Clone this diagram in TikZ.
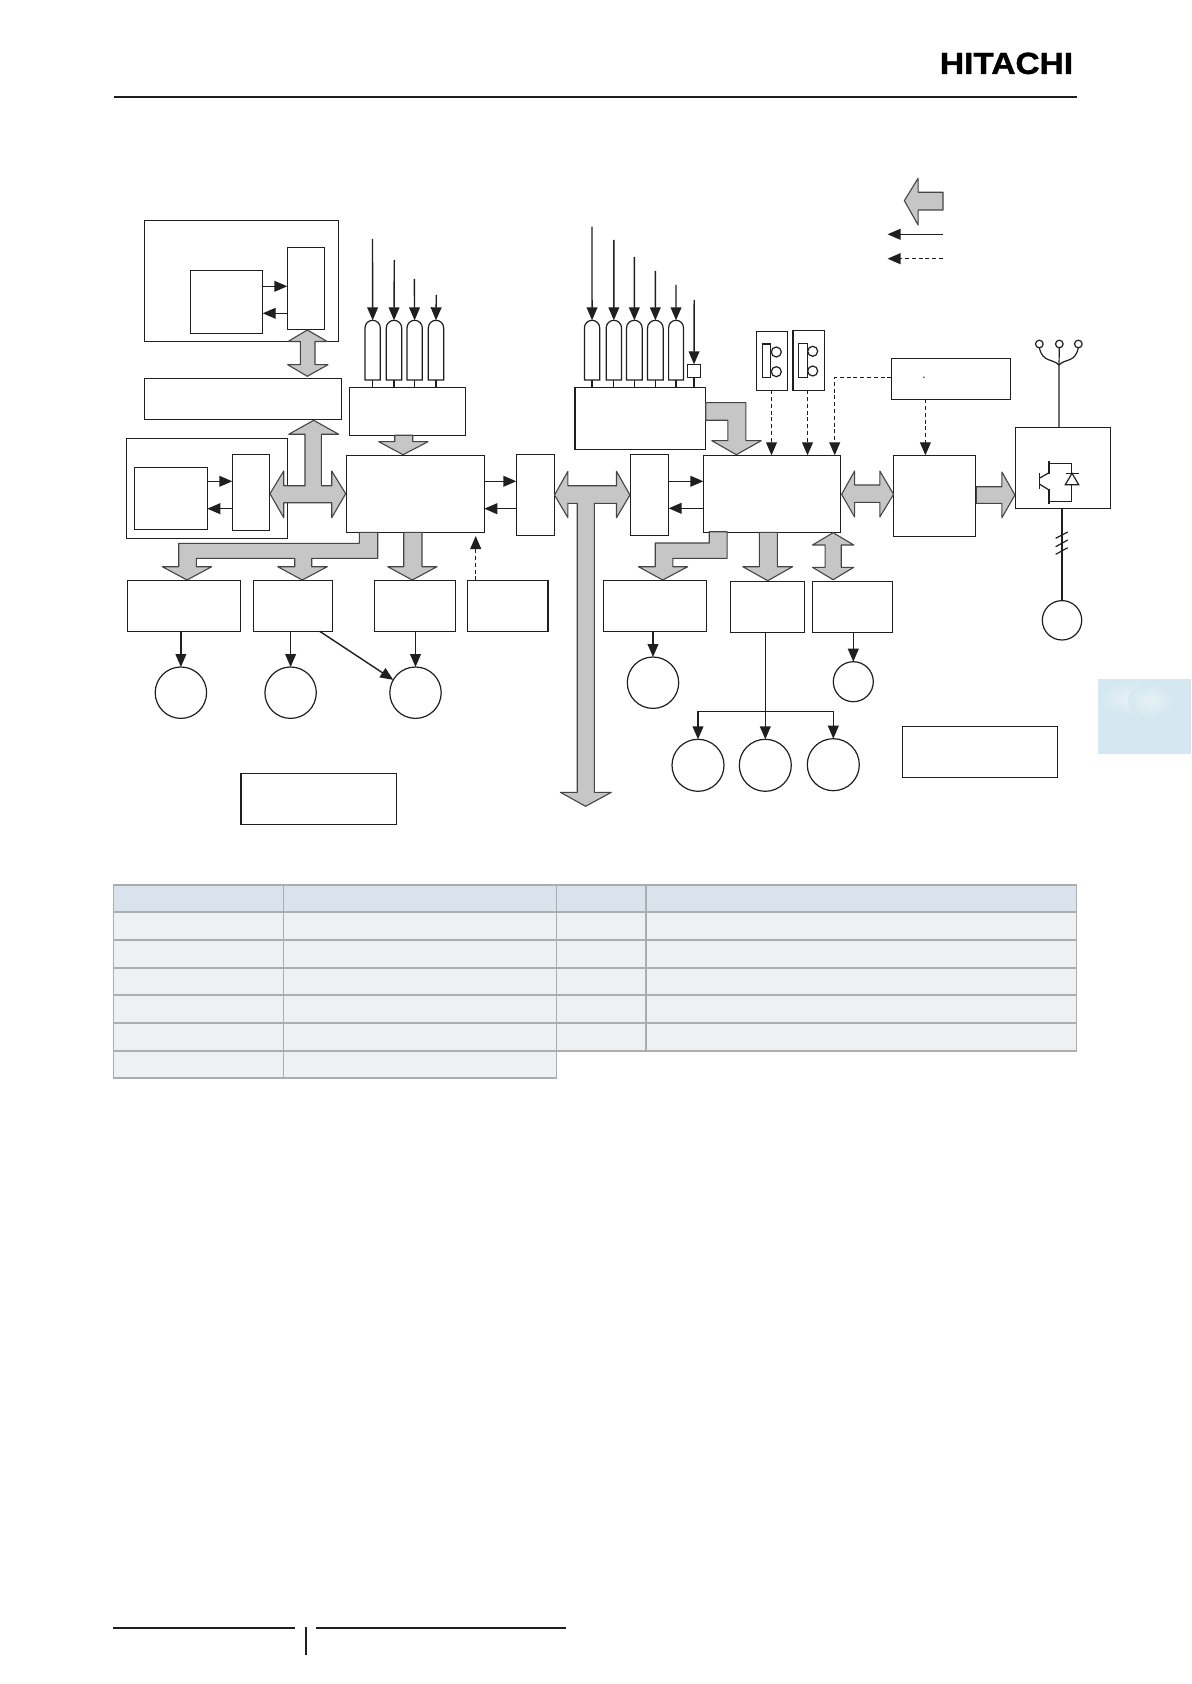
\documentclass[tikz,border=0pt]{standalone}
\usepackage{fontspec}
\setmainfont{Liberation Sans}
\usetikzlibrary{arrows.meta,fit,calc}
\definecolor{ink}{HTML}{1F1F1F}
\definecolor{thickfill}{HTML}{C6C6C6}
\definecolor{thickedge}{HTML}{454545}
\definecolor{tabhead}{HTML}{DAE2EC}
\definecolor{tabbody}{HTML}{EEF1F4}
\definecolor{tabline}{HTML}{ABADB0}
\definecolor{sidetab}{HTML}{D5E8F1}
\definecolor{sidecloud}{HTML}{E8F1F5}
\tikzset{
  boxn/.style={draw=ink,line width=.72pt,inner sep=0pt,outer sep=0pt,fill=white},
  roundn/.style={circle,draw=ink,line width=.6pt,inner sep=0pt,outer sep=0pt,fill=white},
  wire/.style={draw=ink,line width=.7pt},
  thinwire/.style={draw=ink,line width=.6pt},
  arr/.style={wire,-{Stealth[inset=0pt,length=6.5pt,width=5.4pt]}},
  dasharr/.style={wire,dash pattern=on 2pt off 1.4pt,-{Stealth[inset=0pt,length=6.5pt,width=5.4pt]}},
  thick arrow/.style={fill=thickfill,draw=thickedge,line width=.55pt,line join=round},
  rule/.style={draw=ink,line width=1.1pt},
  grid h/.style={draw=tabline,line width=1.1pt},
  grid v/.style={draw=tabline,line width=.75pt},
}
\newcommand\mybox[5]{%
  \coordinate (#1-a) at (#2,#3);\coordinate (#1-b) at (#4,#5);
  \node[boxn,fit=(#1-a)(#1-b)] (#1) {};}
\newcommand\capsule[3]{%
  \pgfmathsetmacro\caprad{(#3-#2)/2}%
  \pgfmathsetmacro\capmid{(#3+#2)/2}%
  \draw[thinwire,fill=white] (#2,380) -- (#2,{320.3+\caprad}) arc[start angle=180,end angle=360,radius=\caprad] -- (#3,380) -- cycle;
  \coordinate (#1) at (\capmid,320.3);
  \coordinate (#1b) at (\capmid,380);}
\begin{document}
\begin{tikzpicture}[x=.5pt,y=-.5pt]
\useasboundingbox (0,0) rectangle (1191,1684);
\fill[white] (0,0) rectangle (1191,1684);

% page furniture
\node[inner sep=0pt,text=black] (logo) at (1006.5,63.4) {\scalebox{1.1}[1]{\fontsize{15.2pt}{15.2pt}\selectfont\bfseries\addfontfeature{FakeBold=1.2}HITACHI}};
\coordinate (ruleL) at (113.5,96.7);\coordinate (ruleR) at (1076.7,96.7);
\draw[rule] (ruleL) -- (ruleR);
\draw[rule] (113,1628) -- (295,1628);
\draw[rule] (316,1628) -- (566,1628);
\draw[rule] (306,1627) -- (306,1654.7);
\fill[sidetab] (1098,679.3) rectangle (1191,754);
\shade[inner color=sidecloud,outer color=sidetab] (1130,698) ellipse (30 and 16);
\shade[inner color=sidecloud,outer color=sidetab] (1150,701) ellipse (22 and 16);

% top-left group
\mybox{aout}{144.3}{220.3}{338.3}{341.7}
\mybox{a1}{190.3}{270.3}{262.7}{333.3}
\mybox{a2}{287.3}{247.3}{324.3}{329.3}
\draw[arr] (a1.east |- 0,286.3) -- (a2.west |- 0,286.3);
\draw[arr] (a2.west |- 0,313.3) -- (a1.east |- 0,313.3);
\mybox{b}{144.3}{378.3}{341.3}{419.3}
\mybox{cout}{126.3}{438.3}{287.3}{538.3}
\mybox{c1}{134.3}{467.3}{207.3}{529.3}
\mybox{c2}{232.3}{454.3}{269.3}{530.3}
\draw[arr] (c1.east |- 0,481.3) -- (c2.west |- 0,481.3);
\draw[arr] (c2.west |- 0,508.7) -- (c1.east |- 0,508.7);

% left sensors
\capsule{s1}{365}{380.3}
\capsule{s2}{386.3}{401.7}
\capsule{s3}{407}{422.3}
\capsule{s4}{428.3}{443.7}
\mybox{f}{349.3}{387.3}{465.3}{435.3}
\coordinate (s1in) at (372.5,239);\coordinate (s2in) at (394.3,260);
\coordinate (s3in) at (414.3,279);\coordinate (s4in) at (436.3,295);
\foreach \n in {s1,s2,s3,s4}{
  \draw[arr] (\n in) -- (\n);
  \draw[thinwire] (\n b) -- (f.north -| \n b);
}

% central left
\mybox{d}{346.3}{455.7}{484.3}{532.3}
\mybox{e}{516.3}{454.3}{554.3}{535.3}
\draw[arr] (d.east |- 0,481.3) -- (e.west |- 0,481.3);
\draw[arr] (e.west |- 0,508.7) -- (d.east |- 0,508.7);

% lower-left row
\mybox{g1}{127.6}{580.3}{240.5}{631.3}
\mybox{g2}{253.5}{580.3}{332.3}{631.3}
\mybox{g3}{374.4}{580.3}{455.5}{631.3}
\mybox{g4}{467.4}{580.3}{547.8}{631.3}
\node[roundn,minimum size=25.7pt] (m1) at (180.9,692.7) {};
\node[roundn,minimum size=25.7pt] (m2) at (290.6,692.7) {};
\node[roundn,minimum size=25.7pt] (m3) at (415.5,692.7) {};
\draw[arr] (g1.south -| m1.north) -- (m1.north);
\draw[arr] (g2.south -| m2.north) -- (m2.north);
\draw[arr] (g3.south -| m3.north) -- (m3.north);
\coordinate (g2diag) at (319.7,631.3);
\draw[arr] (g2diag) -- (m3.150);
\coordinate (g4up) at (475.7,580.3);
\draw[dasharr] (g4up) -- (475.7,536);
\mybox{j}{241.2}{773.3}{396.6}{824.3}

% right sensors
\capsule{t1}{584.4}{599.7}
\capsule{t2}{606.2}{621.5}
\capsule{t3}{626.5}{642.2}
\capsule{t4}{647.5}{663.2}
\capsule{t5}{668.6}{683.5}
\mybox{h}{575.2}{387.3}{705.7}{449.3}
\mybox{sq}{687.3}{364.3}{700.7}{377.7}
\coordinate (t1in) at (592,226.7);\coordinate (t2in) at (613.8,240);
\coordinate (t3in) at (634.3,257);\coordinate (t4in) at (655.3,271);
\coordinate (t5in) at (676,285);\coordinate (sqin) at (694.2,300);
\foreach \n in {t1,t2,t3,t4,t5}{
  \draw[arr] (\n in) -- (\n);
  \draw[thinwire] (\n b) -- (h.north -| \n b);
}
\draw[arr] (sqin) -- (sq.north);
\draw[thinwire] (sq.south) -- (h.north -| sq.south);

% central right
\mybox{e2}{630.3}{454.3}{668.6}{535.3}
\mybox{k}{703.4}{455.3}{840.4}{532.3}
\draw[arr] (e2.east |- 0,481.3) -- (k.west |- 0,481.3);
\draw[arr] (k.west |- 0,508.3) -- (e2.east |- 0,508.3);

% switches
\mybox{sw1}{756.3}{331.3}{787.7}{390.3}
\mybox{sw1r}{762.3}{344}{770.7}{377.7}
\node[roundn,minimum size=5pt] (sw1u) at (776.3,352) {};
\node[roundn,minimum size=5pt] (sw1d) at (776.3,371.7) {};
\mybox{sw2}{793}{330.3}{824.3}{390.3}
\mybox{sw2r}{798.7}{343.3}{807.3}{377.7}
\node[roundn,minimum size=5pt] (sw2u) at (812.7,351.3) {};
\node[roundn,minimum size=5pt] (sw2d) at (812.7,371) {};
\coordinate (sw1o) at (771.5,390.3);\coordinate (sw2o) at (807.5,390.3);
\draw[dasharr] (sw1o) -- (k.north -| sw1o);
\draw[dasharr] (sw2o) -- (k.north -| sw2o);
\mybox{l}{891.3}{358.3}{1010.3}{399.3}
\coordinate (lk) at (834.7,377.3);
\draw[dasharr] (l.west |- lk) -- (lk) -- (k.north -| lk);
\fill[ink] (923.9,377.3) circle (.8);
\mybox{m}{893.6}{455.3}{975.5}{536.3}
\coordinate (lm) at (925.4,399.3);
\draw[dasharr] (lm) -- (m.north -| lm);

% lower-right row
\mybox{g5}{603.6}{580.3}{706.5}{631.3}
\mybox{p}{730.6}{581.3}{804.4}{632.3}
\mybox{q}{812.5}{581.3}{892.5}{632.3}
\node[roundn,minimum size=25.7pt] (n1) at (653,682.7) {};
\draw[arr] (g5.south -| n1.north) -- (n1.north);
\node[roundn,minimum size=20pt] (n2) at (853.3,681.7) {};
\draw[arr] (q.south -| n2.north) -- (n2.north);
\node[roundn,minimum size=26pt] (o1) at (698,765.3) {};
\node[roundn,minimum size=26pt] (o2) at (765.3,765.3) {};
\node[roundn,minimum size=26pt] (o3) at (833.3,764.7) {};
\draw[arr] (p.south -| o2.north) -- (o2.north);
\coordinate (fork) at (764.7,711.3);
\draw[arr] (fork) -| (o1.north);
\draw[arr] (fork) -| (o3.north);
\mybox{r}{902.3}{726.3}{1057.3}{777.3}

% inverter
\mybox{nb}{1015.3}{427.3}{1110.5}{508.3}
\node[roundn,minimum size=3.8pt] (p1) at (1039.3,344) {};
\node[roundn,minimum size=3.8pt] (p2) at (1059.3,344) {};
\node[roundn,minimum size=3.8pt] (p3) at (1078.3,344) {};
\coordinate (pj) at (1059,365);
\draw[thinwire] (nb.north -| pj) -- (pj) -- (p2.south);
\draw[thinwire] (pj) .. controls (1052,358) and (1043,363) .. (p1.south);
\draw[thinwire] (pj) .. controls (1066,358) and (1075,363) .. (p3.south);
\draw[thinwire] (1039.3,473.3) -- (1039.3,489.3);
\draw[thinwire] (1049,460.7) -- (1049,474);
\draw[thinwire] (1039.3,478.3) -- (1049,472.7);
\draw[thinwire] (1039.3,484) -- (1049,490);
\draw[thinwire] (1049,489.3) -- (1049,504.3);
\draw[thinwire] (1049,463.3) -- (1071.7,463.3) -- (1071.7,501.7) -- (1049,501.7);
\draw[thinwire,fill=white] (1065.3,484.7) -- (1078.7,484.7) -- (1072,473.3) -- cycle;
\draw[thinwire] (1065.7,473.3) -- (1078.7,473.3);
\node[roundn,minimum size=19.7pt] (mot) at (1062,620.3) {};
\draw[thinwire] (nb.south -| mot.north) -- (mot.north);
\draw[thinwire] (1055.7,538.3) -- (1067.7,532);
\draw[thinwire] (1055.7,546.7) -- (1067.7,540);
\draw[thinwire] (1055.7,554.3) -- (1067.7,547.7);

% thick arrows
\draw[thick arrow] (307.3,330) -- (327.3,341.5) -- (315,341.5) -- (315,364.7) -- (328,364.7) -- (307.3,376.3) -- (287.7,364.7) -- (300.3,364.7) -- (300.3,341.5) -- (288,341.5) -- cycle;
\draw[thick arrow] (313.7,420.3) -- (338.7,434.3) -- (321.3,434.3) -- (321.3,485.7) -- (331.7,485.7) -- (331.7,471) -- (345.7,493.7) -- (331.7,517.7) -- (331.7,502.7) -- (283.7,502.7) -- (283.7,517.7) -- (270,493.7) -- (283.7,471) -- (283.7,485.7) -- (305,485.7) -- (305,434.3) -- (288.7,434.3) -- cycle;
\draw[thick arrow] (394.7,435.3) -- (412.7,435.3) -- (412.7,441.7) -- (428,441.7) -- (403,454.7) -- (378.7,441.7) -- (394.7,441.7) -- cycle;
\draw[thick arrow] (359.3,532.3) -- (377.7,532.3) -- (377.7,558.3) -- (311.7,558.3) -- (311.7,566.7) -- (327.3,566.7) -- (302.3,580) -- (277.7,566.7) -- (294.7,566.7) -- (294.7,558.3) -- (196.3,558.3) -- (196.3,566.7) -- (211.7,566.7) -- (187,580) -- (162.3,566.7) -- (178.7,566.7) -- (178.7,543.3) -- (359.3,543.3) -- cycle;
\draw[thick arrow] (403.7,532.3) -- (422,532.3) -- (422,566.7) -- (437,566.7) -- (412.3,580) -- (387.7,566.7) -- (403.7,566.7) -- cycle;
\draw[thick arrow] (554.5,495) -- (567.9,471.3) -- (567.9,485.7) -- (616.5,485.7) -- (616.5,471.3) -- (629.9,495) -- (616.5,517.7) -- (616.5,503.3) -- (594.4,503.3) -- (594.4,792.3) -- (611.3,792.3) -- (585.6,806.3) -- (560.4,792.3) -- (577.2,792.3) -- (577.2,503.3) -- (567.9,503.3) -- (567.9,517.7) -- cycle;
\draw[thick arrow] (705.7,402.7) -- (745.9,402.7) -- (745.9,440.7) -- (761.2,440.7) -- (736.3,454.7) -- (711.8,440.7) -- (727.9,440.7) -- (727.9,420.3) -- (705.7,420.3) -- cycle;
\draw[thick arrow] (709.2,531.7) -- (727.1,531.7) -- (727.1,558.3) -- (672.8,558.3) -- (672.8,566.7) -- (687.7,566.7) -- (662.8,580) -- (638.4,566.7) -- (655.2,566.7) -- (655.2,543) -- (709.2,543) -- cycle;
\draw[thick arrow] (759.3,532.3) -- (777.3,532.3) -- (777.3,566.7) -- (792.6,566.7) -- (767.7,580.7) -- (742.8,566.7) -- (759.3,566.7) -- cycle;
\draw[thick arrow] (833.1,532.7) -- (853.8,545) -- (841.2,545) -- (841.2,567.3) -- (853.8,567.3) -- (833.1,579.7) -- (812.5,567.3) -- (825.1,567.3) -- (825.1,545) -- (812.5,545) -- cycle;
\draw[thick arrow] (841.6,494.3) -- (854.6,471) -- (854.6,485) -- (879.8,485) -- (879.8,471) -- (893.6,494.3) -- (879.8,517) -- (879.8,502.3) -- (854.6,502.3) -- (854.6,517) -- cycle;
\draw[thick arrow] (976.3,486.7) -- (1001.9,486.7) -- (1001.9,472) -- (1014.9,495) -- (1001.9,517.7) -- (1001.9,503.3) -- (976.3,503.3) -- cycle;

% key
\draw[thick arrow] (904.3,200.7) -- (918.1,178.3) -- (918.1,192.3) -- (943,192.3) -- (943,210) -- (918.1,210) -- (918.1,225) -- cycle;
\coordinate (key1a) at (943,234.3);\coordinate (key1b) at (887.5,234.3);
\draw[arr] (key1a) -- (key1b);
\coordinate (key2a) at (943,258.7);\coordinate (key2b) at (887.5,258.7);
\draw[dasharr] (key2a) -- (key2b);

% table
\fill[tabhead] (113.4,884.7) rectangle (1076.4,912);
\fill[tabbody] (113.4,912) rectangle (1076.4,1051);
\fill[tabbody] (113.4,1051) rectangle (556.6,1078);
\foreach \yy in {884.7,912,940,967.7,995,1023,1051}{
  \draw[grid h] (113.4,\yy) -- (1076.4,\yy);
}
\draw[grid h] (113.4,1078) -- (556.6,1078);
\foreach \xx in {283.7,556.6}{ \draw[grid v] (\xx,884.7) -- (\xx,1078); }
\draw[grid v] (645.9,884.7) -- (645.9,1051);
\draw[grid v] (113.4,884.2) -- (113.4,1078.5);
\draw[grid v] (1076.4,884.2) -- (1076.4,1051.5);
\draw[grid v] (556.6,1051) -- (556.6,1078.5);
\end{tikzpicture}
\end{document}
